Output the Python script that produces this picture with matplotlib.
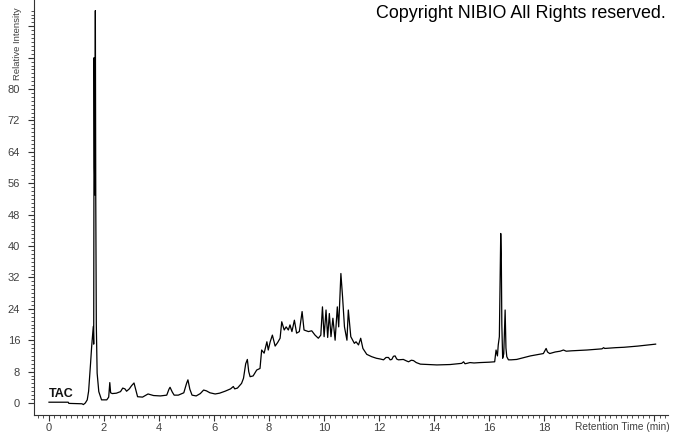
import matplotlib
matplotlib.use("Agg")
import matplotlib.pyplot as plt
from matplotlib.ticker import MultipleLocator, FixedLocator
import numpy as np

# Retention time (min) and relative intensity of the TAC trace
time_min = [
    0.0, 0.7, 0.72, 1.2, 1.25, 1.32, 1.39, 1.44, 1.47, 1.51, 1.55, 1.58, 1.61, 1.625,
    1.64, 1.655, 1.67, 1.685, 1.70, 1.72, 1.75, 1.81, 1.91, 2.1, 2.17, 2.21, 2.24, 2.3,
    2.45, 2.6, 2.68, 2.76, 2.82, 2.92, 3.0, 3.09, 3.15, 3.22, 3.4, 3.6, 3.8, 4.05, 4.28,
    4.36, 4.4, 4.48, 4.55, 4.7, 4.9, 5.0, 5.05, 5.12, 5.2, 5.35, 5.5, 5.62, 5.72, 5.85,
    6.04, 6.2, 6.4, 6.6, 6.7, 6.75, 6.85, 7.0, 7.07, 7.15, 7.21, 7.26, 7.31, 7.42, 7.55,
    7.67, 7.73, 7.82, 7.92, 7.97, 8.04, 8.12, 8.22, 8.31, 8.40, 8.46, 8.55, 8.62, 8.70,
    8.76, 8.83, 8.92, 9.0, 9.1, 9.2, 9.27, 9.43, 9.55, 9.67, 9.79, 9.88, 9.94, 10.0,
    10.07, 10.13, 10.19, 10.25, 10.32, 10.40, 10.48, 10.53, 10.61, 10.67, 10.74, 10.83,
    10.88, 10.97, 11.04, 11.10, 11.16, 11.25, 11.33, 11.41, 11.55, 11.73, 11.9, 12.05,
    12.16, 12.25, 12.34, 12.4, 12.46, 12.52, 12.58, 12.64, 12.7, 12.88, 13.0, 13.07,
    13.17, 13.25, 13.35, 13.5, 13.8, 14.1, 14.58, 15.0, 15.07, 15.12, 15.19, 15.3, 15.45,
    15.67, 16.0, 16.2, 16.25, 16.30, 16.33, 16.37, 16.42, 16.44, 16.46, 16.49, 16.53,
    16.58, 16.61, 16.64, 16.7, 16.8, 17.0, 17.5, 17.97, 18.04, 18.07, 18.12, 18.2, 18.4,
    18.58, 18.7, 18.8, 19.0, 19.55, 20.1, 20.16, 20.2, 20.6, 20.9, 21.4, 22.05,
]
intensity = [
    0.2, 0.2, -0.1, -0.2, -0.4, 0.0, 0.8, 3.0, 5.9, 10.0, 14.3, 17.0, 19.5, 15.0,
    88.0, 60.0, 53.0, 100.0, 52.0, 20.0, 7.6, 2.9, 0.8, 0.8, 1.5, 5.2, 2.6, 2.4,
    2.5, 2.9, 3.8, 3.6, 3.0, 3.6, 4.4, 5.1, 3.5, 1.6, 1.5, 2.3, 1.9, 1.8, 2.0,
    3.5, 4.0, 2.8, 2.0, 2.0, 2.6, 5.0, 5.9, 3.5, 2.0, 1.8, 2.4, 3.3, 3.1, 2.6,
    2.3, 2.5, 3.0, 3.6, 4.2, 3.6, 3.8, 5.0, 6.3, 10.0, 11.1, 8.0, 6.7, 6.9, 8.4,
    8.8, 13.5, 12.7, 15.6, 13.5, 15.6, 17.3, 14.5, 15.4, 16.5, 20.7, 18.6, 19.4, 18.6,
    19.9, 18.2, 21.1, 17.8, 18.2, 23.3, 18.6, 18.2, 18.4, 17.3, 16.5, 17.3, 24.5, 16.9,
    23.7, 16.7, 22.8, 16.9, 21.6, 16.0, 24.5, 19.4, 33.0, 27.1, 19.4, 16.0,
    23.7, 16.9, 16.0, 15.2, 15.6, 14.8, 16.5, 13.9, 12.4, 11.8, 11.4, 11.2,
    11.0, 11.6, 11.6, 11.0, 11.1, 11.9, 12.0, 11.2, 11.0, 11.1, 10.7, 10.5,
    10.9, 10.8, 10.3, 9.9, 9.8, 9.7, 9.8, 10.1, 10.5, 10.0, 10.1, 10.3, 10.2,
    10.3, 10.4, 10.5, 13.5, 12.0, 14.8, 16.9, 43.2, 38.0, 20.0, 11.4, 12.5,
    23.7, 14.0, 11.8, 11.0, 11.0, 11.1, 12.0, 12.6, 13.5, 13.9, 13.0, 12.6, 13.0,
    13.2, 13.5, 13.2, 13.3, 13.5, 13.8, 14.1, 13.9, 14.1, 14.2, 14.5, 15.0,
]
x_tick_labels = ["0", "2", "4", "6", "8", "10", "12", "14", "16", "18"]
y_tick_labels = ["0", "8", "16", "24", "32", "40", "48", "56", "64", "72", "80"]

W, H = 673, 433
fig = plt.figure(figsize=(W / 100, H / 100), dpi=100)
ax = fig.add_axes([34 / W, (H - 415) / H, (668 - 34) / W, 415 / H])

ax.plot(time_min, intensity, color="black", lw=0.9)

ax.set_xlim(-0.545, 22.5)
ax.set_ylim(-3.06, 102.7)

for s in ("top", "right"):
    ax.spines[s].set_visible(False)
for s in ("left", "bottom"):
    ax.spines[s].set_color("#333333")
    ax.spines[s].set_linewidth(0.8)

ax.xaxis.set_major_locator(FixedLocator(np.arange(0, 23, 2)))
ax.xaxis.set_minor_locator(MultipleLocator(0.2))
ax.yaxis.set_major_locator(FixedLocator(np.arange(0, 97, 8)))
ax.yaxis.set_minor_locator(FixedLocator(np.arange(0, 101, 1)))

ax.set_xticklabels([str(v) if str(v) in x_tick_labels else "" for v in range(0, 23, 2)])
ax.set_yticklabels([str(v) if str(v) in y_tick_labels else "" for v in range(0, 97, 8)])

ax.tick_params(axis="both", which="major", direction="out", length=4, width=0.8,
               color="#333333", labelsize=8, labelcolor="#404040")
ax.tick_params(axis="both", which="minor", direction="out", length=2.5, width=0.6,
               color="#333333")
ax.tick_params(axis="x", pad=1.5)
ax.tick_params(axis="y", pad=6)
for lab in ax.get_xticklabels() + ax.get_yticklabels():
    lab.set_family("Liberation Sans")

fig.text(670 / W, (H - 427) / H, "Retention Time (min)", ha="right", va="center",
         fontsize=7.3, family="Liberation Sans", color="#404040")
fig.text(18 / W, (H - 80) / H, "Relative Intensity", rotation=90, ha="center",
         va="bottom", fontsize=6.8, family="Liberation Sans", color="#404040")
fig.text(666 / W, (H - 5) / H, "Copyright NIBIO All Rights reserved.", ha="right",
         va="top", fontsize=12.9, family="Liberation Sans", color="black")
ax.text(0.0, 1.5, "TAC", ha="left", va="baseline", fontsize=9, fontweight="bold",
        family="Liberation Sans", color="#111111")

fig.savefig("out.png", dpi=100)
